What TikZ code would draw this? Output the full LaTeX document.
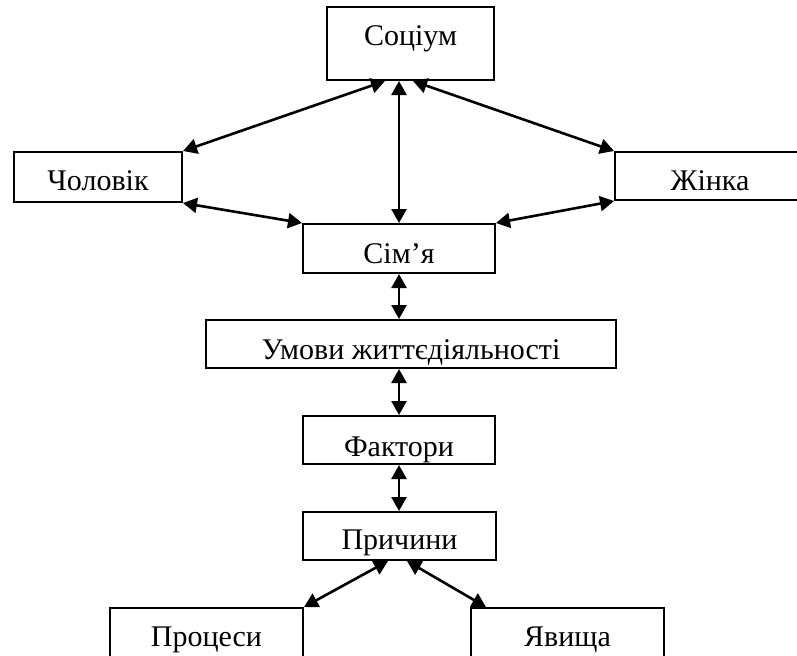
\documentclass[tikz,border=0pt]{standalone}
\usepackage{fontspec}
\setmainfont{Liberation Serif}
\usetikzlibrary{arrows.meta}

\begin{document}
\begin{tikzpicture}[
  x=0.5pt, y=-0.5pt,
  every node/.style={font=\fontsize{15}{17}\selectfont, align=center},
  block/.style={rectangle, draw, line width=1pt, inner sep=0pt, minimum height=24pt},
  link/.style={{Triangle[length=7pt,width=7.5pt]}-{Triangle[length=7pt,width=7.5pt]}, line width=1.3pt}
]
\useasboundingbox (0,0) rectangle (797,655);

\node[block, minimum width=83.5pt, minimum height=36.5pt, text height=8.75pt, text depth=7.25pt] (soc) at (410.5,43.5) {Соціум};
\node[block, minimum width=84pt, minimum height=25pt, text height=14.5pt, text depth=1.5pt] (man) at (98,177) {Чоловік};
\node[block, minimum width=95pt, text height=15pt, text depth=1pt] (woman) at (710,176) {Жінка};
\node[block, minimum width=96pt, minimum height=24.5pt, text height=15.25pt, text depth=0.75pt] (family) at (399,248.5) {Сім’я};
\node[block, minimum width=205pt, text height=15.5pt, text depth=0.5pt] (cond) at (411,344) {Умови життєдіяльності};
\node[block, minimum width=96pt, text height=16pt, text depth=0pt] (fact) at (399,440) {Фактори};
\node[block, minimum width=96.5pt, text height=14.5pt, text depth=1.5pt] (cause) at (399.5,536) {Причини};
\node[block, minimum width=96.5pt, minimum height=26pt, text height=14pt, text depth=2pt] (proc) at (206.5,634) {Процеси};
\node[block, minimum width=96.5pt, minimum height=26pt, text height=14pt, text depth=2pt] (phen) at (567.5,634) {Явища};

\draw[link] ([xshift=-12.75pt]soc.south) -- (man.north east);
\draw[link] ([xshift=1.25pt]soc.south) -- (woman.north west);
\draw[link] (family.north |- soc.south) -- (family.north);
\draw[link] (man.south east) -- (family.north west);
\draw[link] (woman.south west) -- (family.north east);
\draw[link] (family.south) -- (family.south |- cond.north);
\draw[link] (fact.north |- cond.south) -- (fact.north);
\draw[link] (fact.south) -- (fact.south |- cause.north);
\draw[link] ([xshift=-5.75pt]cause.south) -- (proc.north east);
\draw[link] ([xshift=3.75pt]cause.south) -- ([xshift=8pt]phen.north west);

\end{tikzpicture}
\end{document}
